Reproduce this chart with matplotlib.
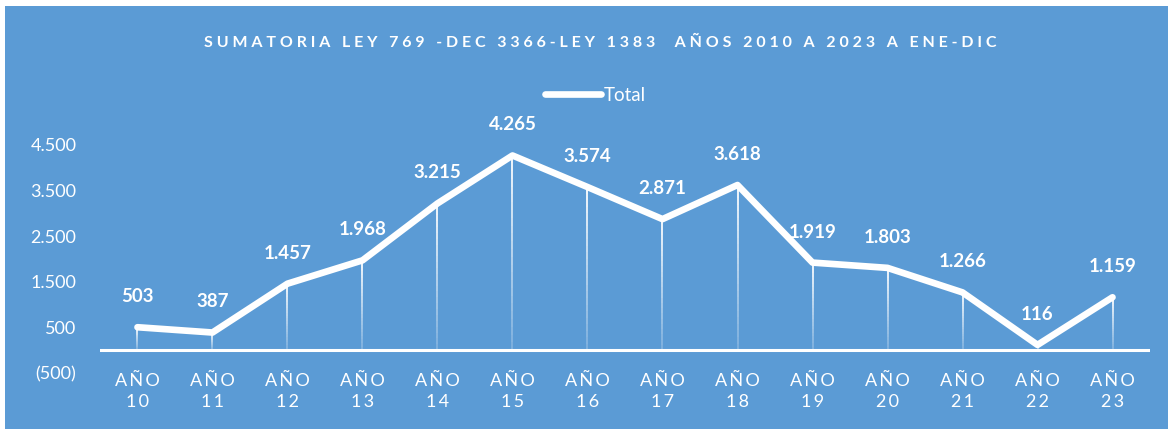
import matplotlib.pyplot as plt
import numpy as np
from matplotlib.collections import LineCollection

years = ["10", "11", "12", "13", "14", "15", "16", "17", "18", "19", "20", "21", "22", "23"]
totals = [503, 387, 1457, 1968, 3215, 4265, 3574, 2871, 3618, 1919, 1803, 1266, 116, 1159]
y_ticks = [-500, 500, 1500, 2500, 3500, 4500]

BG = "#5B9BD5"
FONT = ["Lato", "DejaVu Sans"]


def spaced(text, gap="\u2009"):
    return gap.join(text)


def fmt(v):
    s = f"{abs(v):,}".replace(",", ".")
    return f"({s})" if v < 0 else s


fig = plt.figure(figsize=(11.68, 4.29), dpi=100)
fig.patch.set_facecolor("white")
fig.add_artist(plt.Rectangle((0.004, 0.0), 0.996, 0.985, transform=fig.transFigure,
                             facecolor=BG, edgecolor="none", zorder=0))

ax = fig.add_axes([0.0856, 0.1305, 0.899, 0.564])
ax.set_facecolor("none")
x = np.arange(len(years))

# drop lines with fading gradient
segs, cols = [], []
n = 25
for xi, v in zip(x, totals):
    ys = np.linspace(v, 0, n + 1)
    for k in range(n):
        segs.append([(xi, ys[k]), (xi, ys[k + 1])])
        cols.append((1, 1, 1, 1.0 - 0.8 * k / n))
ax.add_collection(LineCollection(segs, colors=cols, linewidths=1.3, zorder=2))

ax.axhline(0, color="white", lw=2.2, zorder=3)
ax.plot(x, totals, color="white", lw=4.8, solid_joinstyle="round",
        solid_capstyle="round", zorder=4, label="Total")

for xi, v in zip(x, totals):
    ax.annotate(fmt(v), (xi, v), xytext=(0, 22), textcoords="offset points",
                ha="center", va="center", color="white", fontsize=13.5,
                fontweight="bold", family=FONT)

ax.set_xlim(-0.5, len(years) - 0.5)
ax.set_ylim(-500, 4800)
ax.set_yticks(y_ticks)
ax.set_yticklabels([fmt(v) for v in y_ticks], family=FONT, fontsize=13, color="white")
ax.tick_params(axis="y", length=0, pad=17)
ax.set_xticks(x)
ax.set_xticklabels([spaced("AÑO") + "\n" + spaced(y) for y in years],
                   family=FONT, fontsize=13, color="white", linespacing=1.4)
ax.tick_params(axis="x", length=0, pad=0)
for s in ax.spines.values():
    s.set_visible(False)

fig.text(0.514, 0.9, spaced("SUMATORIA LEY 769 -DEC 3366-LEY 1383  AÑOS 2010 A 2023 A ENE-DIC", " "),
         ha="center", va="center", color="white", fontsize=11.5, fontweight="bold", family=FONT)

leg = ax.legend(loc="center", bbox_to_anchor=(0.51, 0.778), bbox_transform=fig.transFigure,
                frameon=False, handlelength=3.0, handletextpad=0.15,
                prop={"family": FONT, "size": 13.5})
for t in leg.get_texts():
    t.set_color("white")

fig.savefig("out.png", dpi=100, facecolor=fig.get_facecolor())
